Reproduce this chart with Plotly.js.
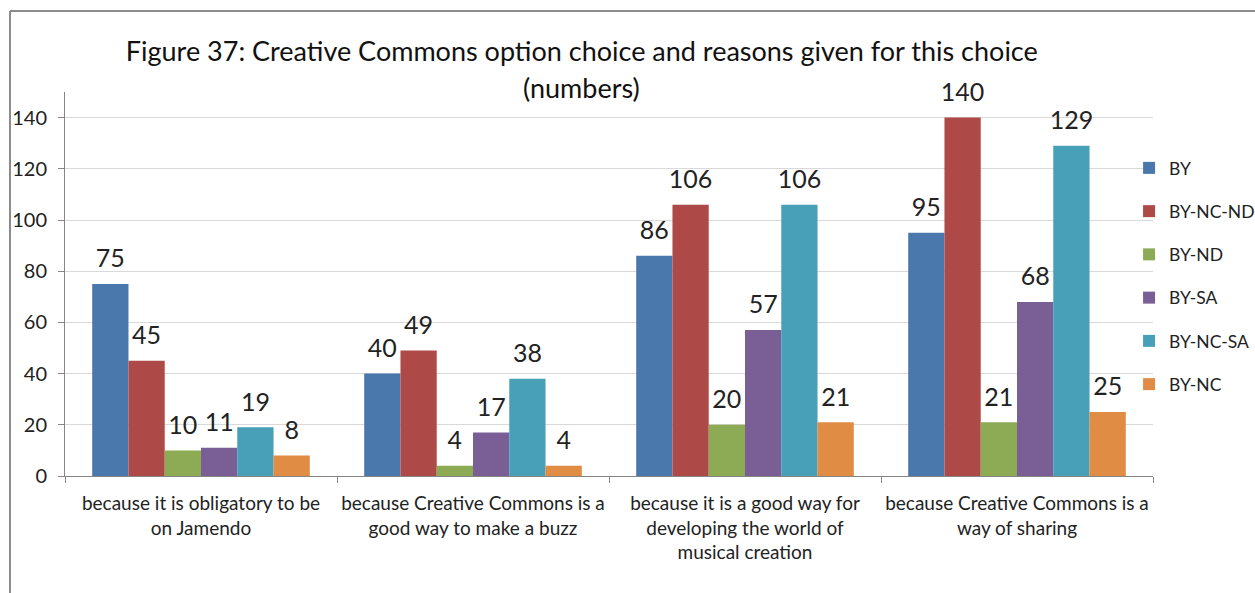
<!DOCTYPE html>
<html>
<head>
<meta charset="utf-8">
<script src="https://cdn.plot.ly/plotly-3.0.1.min.js"></script>
<style>
html,body{margin:0;padding:0;background:#fff;}
#chart{width:1255px;height:593px;}
</style>
</head>
<body>
<div id="chart"></div>
<script>
const categories = [
  "because it is obligatory to be<br>on Jamendo",
  "because Creative Commons is a<br>good way to make a buzz",
  "because it is a good way for<br>developing the world of<br>musical creation",
  "because Creative Commons is a<br>way of sharing"
];
const seriesNames = ["BY", "BY-NC-ND", "BY-ND", "BY-SA", "BY-NC-SA", "BY-NC"];
const BY       = [75, 40, 86, 95];
const BY_NC_ND = [45, 49, 106, 140];
const BY_ND    = [10, 4, 20, 21];
const BY_SA    = [11, 17, 57, 68];
const BY_NC_SA = [19, 38, 106, 129];
const BY_NC    = [8, 4, 21, 25];
const seriesValues = [BY, BY_NC_ND, BY_ND, BY_SA, BY_NC_SA, BY_NC];
const colors = ["#4A78AD", "#AD4A47", "#8DAA54", "#7A5E96", "#48A0B8", "#E08C44"];

const FONT = "Lato, 'Open Sans', sans-serif";

// value shown large; a small blank second line lifts each label a little above its bar
const labelText = v => "<span style='font-size:25px'>" + v + "</span><br> ";

const traces = seriesNames.map((name, i) => ({
  type: "bar",
  name: name,
  x: categories,
  y: seriesValues[i],
  marker: {color: colors[i]},
  text: seriesValues[i].map(labelText),
  textposition: "outside",
  constraintext: "none",
  textfont: {family: FONT, size: 9, color: "#222"},
  cliponaxis: false,
  legendgroup: name,
  hoverinfo: "x+y+name"
}));

const layout = {
  width: 1255, height: 593,
  margin: {l: 65, r: 102, t: 92, b: 117, autoexpand: false},
  paper_bgcolor: "#fff", plot_bgcolor: "#fff",
  font: {family: FONT, color: "#222"},
  barmode: "group",
  bargap: 0.2,
  bargroupgap: 0,
  title: {
    text: "Figure 37: Creative Commons option choice and reasons given for this choice",
    font: {family: FONT, size: 27, color: "#111"},
    x: 0.475, xref: "paper", xanchor: "center",
    y: 1 - 52/593, yref: "container", yanchor: "middle"
  },
  annotations: [{
    text: "(numbers)", showarrow: false,
    xref: "paper", yref: "paper",
    x: 0.475, xanchor: "center",
    y: (476 - 88) / 384, yanchor: "middle",
    font: {family: FONT, size: 27, color: "#111"}
  }],
  xaxis: {
    showline: true, linecolor: "#868686", linewidth: 1,
    ticks: "outside", tickson: "boundaries", ticklen: 6, tickcolor: "#868686",
    tickfont: {family: FONT, size: 19, color: "#222"},
    tickangle: 0,
    ticklabelstandoff: 10,
    showgrid: false, automargin: false
  },
  yaxis: {
    range: [0, 150], dtick: 20, tick0: 0,
    showline: true, linecolor: "#868686", linewidth: 1,
    ticks: "outside", ticklen: 6, tickcolor: "#868686",
    gridcolor: "#D9D9D9", gridwidth: 1,
    zeroline: false,
    tickfont: {family: FONT, size: 20, color: "#222"},
    ticklabelstandoff: 7,
    automargin: false
  },
  legend: {
    x: 0.978, xanchor: "left", xref: "paper",
    y: (476 - 150) / 384, yanchor: "top",
    font: {family: FONT, size: 17.5, color: "#222"},
    tracegroupgap: 17.5,
    traceorder: "grouped",
    bgcolor: "rgba(0,0,0,0)"
  },
  shapes: [
    {type: "line", xref: "paper", yref: "paper",
     x0: (10 - 65) / 1088, x1: (10 - 65) / 1088,
     y0: (476 - 11) / 384, y1: (476 - 600) / 384,
     line: {color: "#8C8C8C", width: 2}},
    {type: "line", xref: "paper", yref: "paper",
     x0: (10 - 65) / 1088, x1: (1260 - 65) / 1088,
     y0: (476 - 11) / 384, y1: (476 - 11) / 384,
     line: {color: "#8C8C8C", width: 2}}
  ],
  showlegend: true
};

Plotly.newPlot("chart", traces, layout, {displayModeBar: false, staticPlot: true});
</script>
</body>
</html>
